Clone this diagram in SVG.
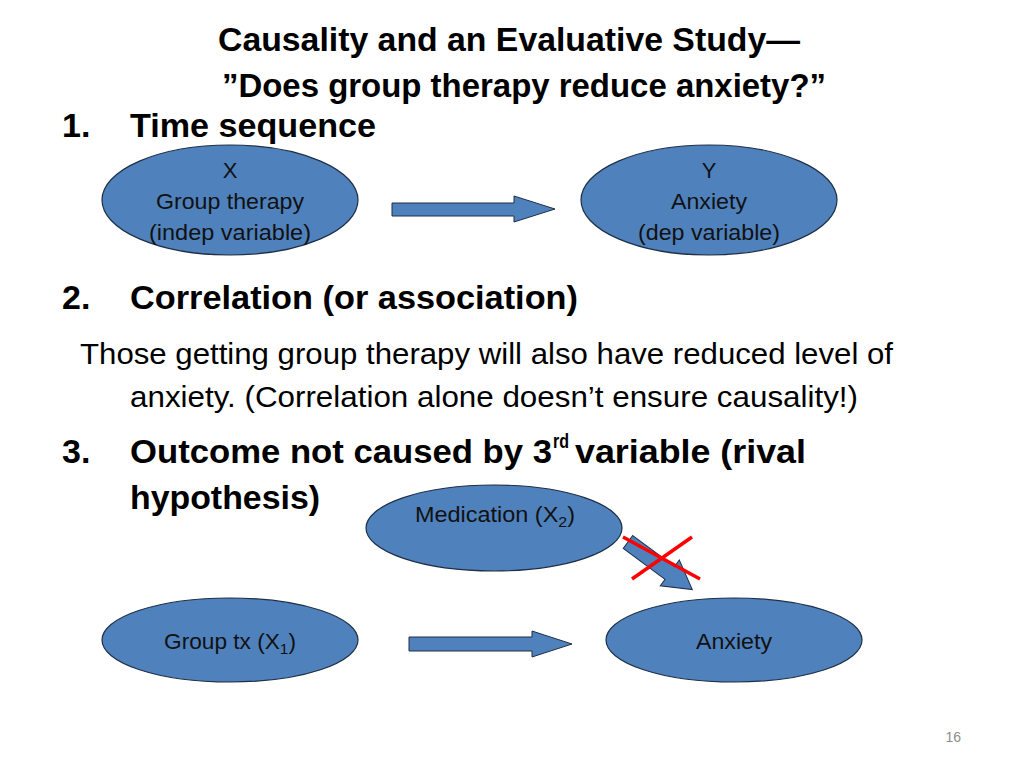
<svg xmlns="http://www.w3.org/2000/svg" width="1024" height="768" viewBox="0 0 1024 768">
<style>
.t{font-family:"Liberation Sans",Arial,sans-serif;fill:#000}
.b{font-weight:bold;font-size:34px}
.r{font-size:29px}
.n{font-size:22px;text-anchor:middle;fill:#111}
.node{fill:#4F81BD;stroke:#1F2F45;stroke-width:1.2}
.arr{fill:#4F81BD;stroke:#1F2F45;stroke-width:1}
</style>
<rect width="1024" height="768" fill="#fff"/>
<g id="title">
<text class="t b" x="218" y="51" textLength="582" lengthAdjust="spacingAndGlyphs">Causality and an Evaluative Study—</text>
<text class="t b" x="222" y="97" textLength="604" lengthAdjust="spacingAndGlyphs">”Does group therapy reduce anxiety?”</text>
</g>
<g id="text">
<text class="t b" x="62" y="137">1.</text>
<text class="t b" x="130" y="137" textLength="246" lengthAdjust="spacingAndGlyphs">Time sequence</text>
<text class="t b" x="62" y="309">2.</text>
<text class="t b" x="130" y="309" textLength="448" lengthAdjust="spacingAndGlyphs">Correlation (or association)</text>
<text class="t r" x="80" y="364" textLength="813" lengthAdjust="spacingAndGlyphs">Those getting group therapy will also have reduced level of</text>
<text class="t r" x="130" y="407" textLength="728" lengthAdjust="spacingAndGlyphs">anxiety. (Correlation alone doesn’t ensure causality!)</text>
<text class="t b" x="62" y="463">3.</text>
<text class="t b" x="130" y="463" textLength="422" lengthAdjust="spacingAndGlyphs">Outcome not caused by 3</text>
<text class="t" x="553" y="448" font-weight="bold" font-size="20" textLength="16" lengthAdjust="spacingAndGlyphs">rd</text>
<text class="t b" x="575" y="463" textLength="231" lengthAdjust="spacingAndGlyphs">variable (rival</text>
<text class="t b" x="130" y="509" textLength="190" lengthAdjust="spacingAndGlyphs">hypothesis)</text>
<text class="t" x="961" y="742" font-size="14" text-anchor="end" style="fill:#8C8C8C">16</text>
</g>
<g id="connectors">
<polygon class="arr" points="392,203 514,203 514,196 555,209 514,222 514,216 392,216"/>
<polygon class="arr" points="409,637 532,637 532,631 572,644 532,657 532,651 409,651"/>
<polygon class="arr" transform="translate(628,542) rotate(36.5)" points="0,-8 52,-8 52,-16 80,0 52,16 52,8 0,8"/>
<g id="cross" stroke="#FF0000" stroke-width="3.5" stroke-linecap="butt">
<line x1="623" y1="537" x2="700" y2="579"/>
<line x1="632" y1="579" x2="692" y2="537"/>
</g>
</g>
<g id="node-x">
<ellipse class="node" cx="230" cy="200" rx="128" ry="55"/>
<text class="t n" x="230" y="178">X</text>
<text class="t n" x="230" y="209" textLength="148" lengthAdjust="spacingAndGlyphs">Group therapy</text>
<text class="t n" x="230" y="240" textLength="162" lengthAdjust="spacingAndGlyphs">(indep variable)</text>
</g>
<g id="node-y">
<ellipse class="node" cx="709" cy="200" rx="128" ry="55"/>
<text class="t n" x="709" y="178">Y</text>
<text class="t n" x="709" y="209" textLength="76" lengthAdjust="spacingAndGlyphs">Anxiety</text>
<text class="t n" x="709" y="240" textLength="142" lengthAdjust="spacingAndGlyphs">(dep variable)</text>
</g>
<g id="node-medication">
<ellipse class="node" cx="494" cy="528" rx="128" ry="43"/>
<text class="t" x="415" y="522" font-size="22" style="fill:#111" textLength="160" lengthAdjust="spacingAndGlyphs">Medication (X<tspan font-size="15" dy="5">2</tspan><tspan dy="-5">)</tspan></text>
</g>
<g id="node-grouptx">
<ellipse class="node" cx="230" cy="640" rx="128" ry="42"/>
<text class="t" x="164" y="649" font-size="22" style="fill:#111" textLength="132" lengthAdjust="spacingAndGlyphs">Group tx (X<tspan font-size="15" dy="5">1</tspan><tspan dy="-5">)</tspan></text>
</g>
<g id="node-anxiety">
<ellipse class="node" cx="734" cy="640" rx="128" ry="42"/>
<text class="t n" x="734" y="649" textLength="76" lengthAdjust="spacingAndGlyphs">Anxiety</text>
</g>
</svg>
